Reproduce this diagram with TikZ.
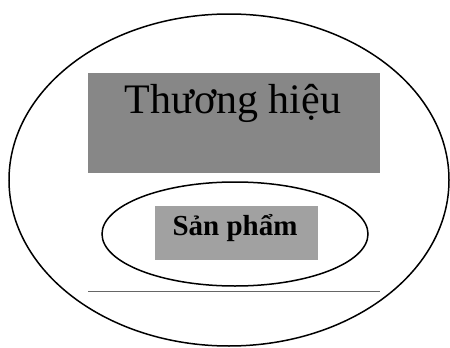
\documentclass[tikz,border=0pt]{standalone}
\usepackage{fontspec}
\setmainfont{Liberation Serif}
\begin{document}
\begin{tikzpicture}[x=1pt,y=-1pt,
  ring/.style={draw=black,line width=1.5pt,fill=none},
  panel/.style={inner sep=0pt,outer sep=0pt,anchor=north west},
]
\useasboundingbox (0,0) rectangle (450,348);
% outer and inner circles of the model
\draw[ring] (229,180) ellipse [x radius=220, y radius=166];
\draw[ring] (235,234) ellipse [x radius=133, y radius=52];
% brand panel
\node[panel,fill=black!47,minimum width=292pt,minimum height=100pt] (brand) at (88,73) {};
\node[font=\fontsize{42}{46}\selectfont,anchor=base] (brandtext) at (233,113) {Thương hiệu};
% product panel
\node[panel,fill=black!37,minimum width=163pt,minimum height=54pt] (product) at (155,206) {};
\node[font=\fontsize{29}{32}\selectfont\bfseries,anchor=base] (producttext) at (235,235) {Sản phẩm};
% base line
\coordinate (la) at (88,291);
\coordinate (lb) at (380,291);
\draw[black!60,line width=0.6pt] (la) -- (lb);
\end{tikzpicture}
\end{document}
